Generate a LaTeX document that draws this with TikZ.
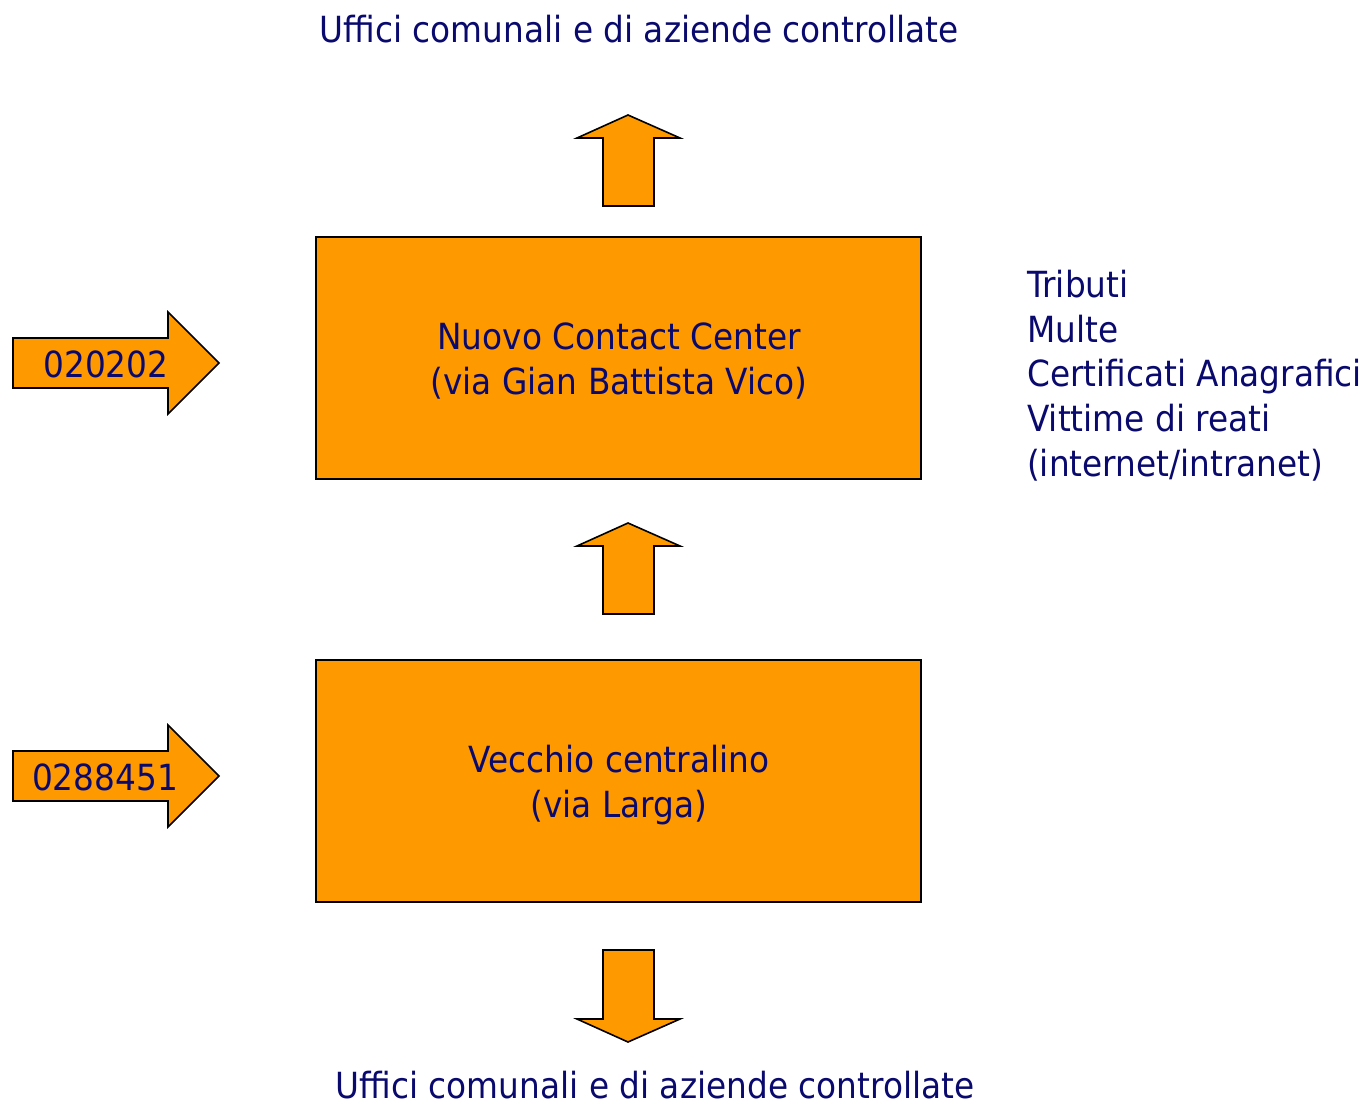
\documentclass[tikz,border=0pt]{standalone}
\usepackage{fontspec}
\setmainfont{DejaVu Sans}[FakeStretch=0.91]
\definecolor{navy}{HTML}{0A0A6E}
\definecolor{orng}{HTML}{FF9900}
\begin{document}
\begin{tikzpicture}[x=1pt,y=-1pt,
  shp/.style={fill=orng,draw=black,line width=1.6pt,line join=miter},
  txt/.style={text=navy,font=\fontsize{36}{44.6}\selectfont,inner sep=0pt,anchor=base},
  boxtxt/.style={txt,align=center}]
\useasboundingbox (0,0) rectangle (1362,1104);
% boxes
\node[shp,minimum width=605pt,minimum height=242pt,inner sep=0pt] (nuovo) at (618.5,358) {};
\node[shp,minimum width=605pt,minimum height=242pt,inner sep=0pt] (vecchio) at (618.5,781) {};
\node[boxtxt] (nuovoT) at (619,394) {Nuovo Contact Center\\(via Gian Battista Vico)};
\node[boxtxt] (vecchioT) at (619,817) {Vecchio centralino\\(via Larga)};
% up arrow top
\draw[shp] (603,206) -- (603,138) -- (577,138) -- (628,115) -- (680,138) -- (654,138) -- (654,206) -- cycle;
% up arrow middle
\draw[shp] (603,614) -- (603,546) -- (577,546) -- (628,523) -- (680,546) -- (654,546) -- (654,614) -- cycle;
% down arrow
\draw[shp] (603,950) -- (603,1019) -- (577,1019) -- (628,1042) -- (680,1019) -- (654,1019) -- (654,950) -- cycle;
% left arrows
\draw[shp] (13,338) -- (168,338) -- (168,312) -- (219,363) -- (168,414) -- (168,388) -- (13,388) -- cycle;
\draw[shp] (13,751) -- (168,751) -- (168,725) -- (219,776) -- (168,827) -- (168,801) -- (13,801) -- cycle;
\node[txt] (n1) at (106,377) {020202};
\node[txt] (n2) at (105,790) {0288451};
% outer texts
\node[txt] (top) at (639,42) {Uffici comunali e di aziende controllate};
\node[txt,text depth=0pt] (bot) at (655,1098) {Uffici comunali e di aziende controllate};
\node[txt,align=left,anchor=base west] (list) at (1027,476) {Tributi\\Multe\\Certificati Anagrafici\\Vittime di reati\\(internet/intranet)};
\end{tikzpicture}
\end{document}
